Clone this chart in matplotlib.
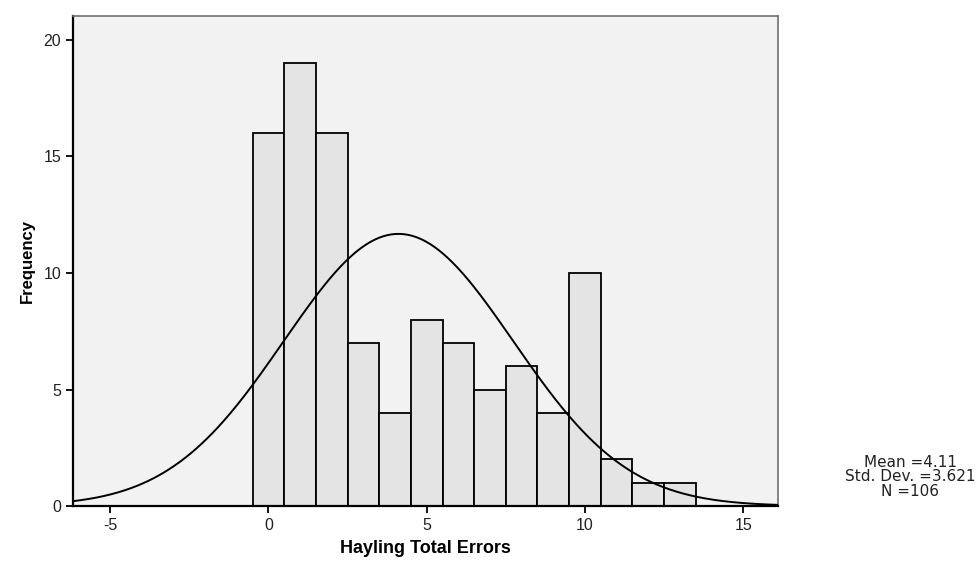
import matplotlib
matplotlib.use("Agg")
import matplotlib.pyplot as plt
import numpy as np

# histogram bins (error counts) and frequencies
errors = [0, 1, 2, 3, 4, 5, 6, 7, 8, 9, 10, 11, 12, 13]
freq = [16, 19, 16, 7, 4, 8, 7, 5, 6, 4, 10, 2, 1, 1]
mean = 4.11
sd = 3.621
n = 106

plt.rcParams['font.family'] = ['Liberation Sans', 'DejaVu Sans']

fig = plt.figure(figsize=(9.8, 5.61), dpi=100)
ax = fig.add_axes([0.0745, 0.098, 0.7195, 0.8735])
ax.set_facecolor('#f2f2f2')

ax.bar(errors, freq, width=1.0, color='#e4e4e4', edgecolor='black', linewidth=1.3, zorder=2)

# normal curve scaled to counts (bin width 1)
xs = np.linspace(-6.2, 16.2, 400)
ys = n / (sd * np.sqrt(2 * np.pi)) * np.exp(-0.5 * ((xs - mean) / sd) ** 2)
ax.plot(xs, ys, color='black', linewidth=1.4, zorder=3)

ax.set_xlim(-6.17, 16.1)
ax.set_ylim(0, 21.03)
ax.set_xticks([-5, 0, 5, 10, 15])
ax.set_yticks([0, 5, 10, 15, 20])
ax.set_xticklabels(['-5', '0', '5', '10', '15'])
ax.tick_params(direction='out', length=5, width=1.3, labelsize=11.5, color='black',
               labelcolor='#222222')

for s in ['left', 'bottom']:
    ax.spines[s].set_linewidth(1.6)
    ax.spines[s].set_color('black')
for s in ['top', 'right']:
    ax.spines[s].set_linewidth(1.2)
    ax.spines[s].set_color('#707070')

ax.set_xlabel('Hayling Total Errors', fontsize=13, fontweight='bold', labelpad=5)
ax.set_ylabel('Frequency', fontsize=12, fontweight='bold', labelpad=6)

fig.text(0.9286, 0.15, 'Mean =4.11\nStd. Dev. =3.621\nN =106', ha='center', va='center',
         fontsize=11, linespacing=0.95, color='#222222', family='DejaVu Sans')

fig.savefig('out.png', dpi=100)
